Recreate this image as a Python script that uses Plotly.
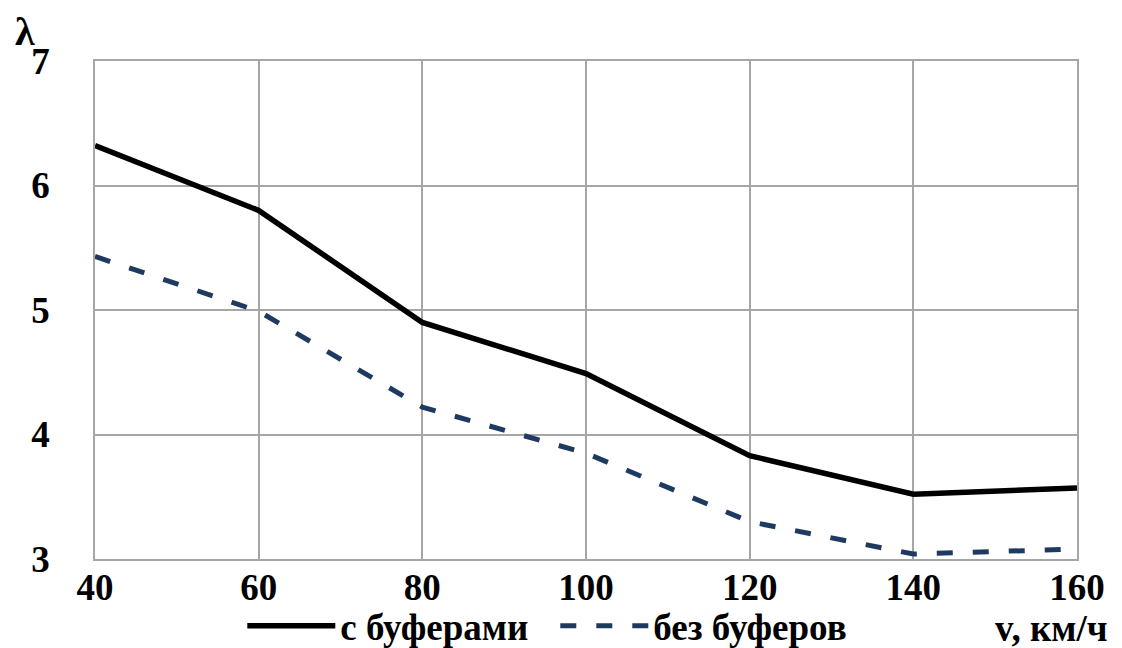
import plotly.graph_objects as go

speeds = [40, 60, 80, 100, 120, 140, 160]
with_buffers = [6.32, 5.80, 4.90, 4.49, 3.83, 3.52, 3.57]
without_buffers = [5.43, 4.99, 4.22, 3.85, 3.30, 3.04, 3.08]
x_ticks = [40, 60, 80, 100, 120, 140, 160]
y_ticks = [3, 4, 5, 6, 7]
name_with = "с буферами"
name_without = "без буферов"

FONT = "Liberation Serif"
fig = go.Figure()
fig.add_trace(go.Scatter(x=speeds, y=with_buffers, mode="lines", name=name_with,
                         line=dict(color="black", width=5.5)))
fig.add_trace(go.Scatter(x=speeds, y=without_buffers, mode="lines", name=name_without,
                         line=dict(color="#1f3a60", width=5, dash="16px,20px")))

grid = "#a6a6a6"
tf = dict(family=FONT, size=37, color="black", weight="bold")
fig.update_xaxes(range=[40, 160], tickvals=x_ticks, showgrid=True, gridcolor=grid, gridwidth=1.5,
                 showline=True, linecolor=grid, linewidth=1.5, mirror=True, zeroline=False,
                 ticks="", tickfont=tf, ticklabelstandoff=-5, automargin=False)
fig.update_yaxes(range=[3, 7], tickvals=y_ticks, showgrid=True, gridcolor=grid, gridwidth=1.5,
                 showline=True, linecolor=grid, linewidth=1.5, mirror=True, zeroline=False,
                 ticks="", tickfont=tf, ticklabelstandoff=36, automargin=False)

fig.add_annotation(text="<b>λ</b>", xref="paper", yref="paper", x=-0.071, y=1.01,
                   xanchor="center", yanchor="bottom", showarrow=False,
                   font=dict(family=FONT, size=40, color="black"))
fig.add_annotation(text="<b>v, км/ч</b>", xref="paper", yref="paper", x=1.034, y=-0.14,
                   xanchor="right", yanchor="middle", showarrow=False,
                   font=dict(family=FONT, size=37, color="black"))

fig.update_layout(
    width=1122, height=648,
    margin=dict(l=87, r=53, t=53, b=97),
    paper_bgcolor="white", plot_bgcolor="white",
    font=dict(family=FONT, color="black"),
    showlegend=True,
    legend=dict(orientation="h", x=0.150, xref="paper", y=0.046, yref="container",
                xanchor="left", yanchor="middle",
                font=dict(family=FONT, size=37, color="black", weight="bold"),
                itemwidth=88, entrywidth=210, bgcolor="rgba(0,0,0,0)", tracegroupgap=0),
)
fig.write_html("out.html")
